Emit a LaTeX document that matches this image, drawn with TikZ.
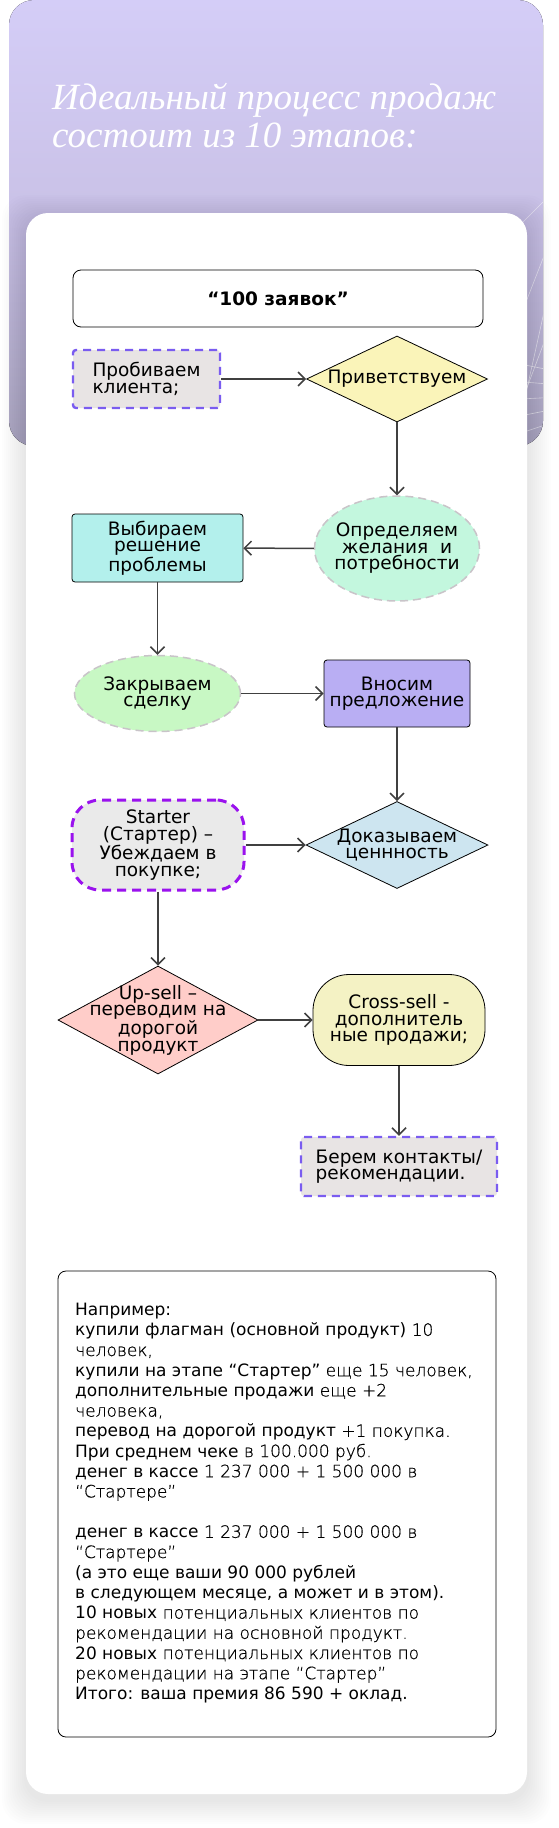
\documentclass[tikz,border=0pt]{standalone}
\usepackage{fontspec}
\setmainfont{DejaVu Sans}
\newfontfamily\lightfont[FakeBold=0.5]{DejaVu Sans ExtraLight}
\newfontfamily\titlefont{Liberation Serif}
\usetikzlibrary{arrows.meta, shapes.geometric}
\definecolor{mHeadTop}{HTML}{D4CDF7}
\definecolor{mHeadMid}{HTML}{C9C1E6}
\definecolor{mHeadBot}{HTML}{AEA9C3}
\definecolor{mArrow}{HTML}{404040}
\definecolor{mDashBlue}{HTML}{7A5CF0}
\definecolor{mDashViolet}{HTML}{9A12EE}
\definecolor{mDashGray}{HTML}{C9C4C9}
\definecolor{mGrayFill}{HTML}{E8E4E4}
\definecolor{mStarter}{HTML}{EAEAEA}
\definecolor{mYellow}{HTML}{FAF4B9}
\definecolor{mMint}{HTML}{C3F7DE}
\definecolor{mCyan}{HTML}{B3F0EC}
\definecolor{mGreen}{HTML}{C8F8C4}
\definecolor{mLavender}{HTML}{B9AEF3}
\definecolor{mSky}{HTML}{CDE5F0}
\definecolor{mPink}{HTML}{FFCDC9}
\definecolor{mCream}{HTML}{F4F2C4}
\newcommand{\lite}[1]{{\lightfont #1}}

\begin{document}
\begin{tikzpicture}[x=1pt, y=-1pt,
    box/.style={draw=black, line width=0.8pt, rounded corners=3pt, align=center, inner sep=0pt,
      font=\fontsize{18.5}{16.5}\selectfont},
    dashbox/.style={box, draw=mDashBlue, line width=2.4pt, dash pattern=on 8pt off 6pt, fill=mGrayFill, align=left},
    rhomb/.style={diamond, draw=black, line width=0.8pt, inner sep=0pt},
    oval/.style={ellipse, draw=mDashGray, line width=1.5pt, dash pattern=on 8pt off 5pt, inner sep=0pt},
    txt/.style={align=center, inner sep=0pt, font=\fontsize{18.5}{16.5}\selectfont},
    arr/.style={draw=mArrow, line width=1.5pt, -{Straight Barb[length=7pt, width=14pt]}},
    title/.style={anchor=base west, inner sep=0pt, text height=24pt, text depth=6pt, text=white,
      font=\titlefont\itshape\fontsize{37}{37}\selectfont}]
  \useasboundingbox (0,0) rectangle (558,1828);
  \fill[white] (0,0) rectangle (558,1828);

  \fill[top color=mHeadTop, bottom color=mHeadBot, middle color=mHeadMid, rounded corners=25pt] (9,0) rectangle (543,446);
  \begin{scope}
    \clip[rounded corners=25pt] (9,0) rectangle (543,446);
    \foreach \a/\b/\c/\d in {560/185/505/240, 560/215/515/330, 560/240/520/420, 560/300/505/446,
        500/360/560/372, 500/380/560/385, 500/400/560/397, 500/420/560/408, 500/440/560/420}
      \draw[white, opacity=0.55, line width=0.6pt] (\a,\b) -- (\c,\d);
  \end{scope}
  \node[title] (title1) at (52,110) {Идеальный процесс продаж};
  \node[title] (title2) at (52,147) {состоит из 10 этапов:};

  \foreach \s in {1,...,12}
    \fill[black, opacity=0.006, rounded corners=24pt] (26-2*\s,213-2*\s+6) rectangle (527+2*\s,1794+2*\s+6);
  \fill[white, rounded corners=22pt] (26,213) rectangle (527,1794);

  \node[box, fill=white, rounded corners=8pt, minimum width=410pt, minimum height=57pt] (zayavki) at (278,298.5) {\bfseries “100 заявок”};
  \node[dashbox, minimum width=147pt, minimum height=58pt] (probiv) at (146.5,379) {Пробиваем\\клиента;};
  \node[rhomb, fill=mYellow, minimum width=181pt, minimum height=86pt,
    label={[txt]center:Приветствуем}] (privet) at (397,379) {};
  \node[oval, fill=mMint, minimum width=165pt, minimum height=105pt,
    label={[txt]center:Определяем\\желания\ \ и\\потребности}] (opred) at (397,548.5) {};
  \node[box, fill=mCyan, minimum width=171pt, minimum height=68pt] (vybir) at (157.5,548) {Выбираем\\решение\\проблемы};
  \node[oval, fill=mGreen, minimum width=166pt, minimum height=76pt,
    label={[txt]center:Закрываем\\сделку}] (zakryv) at (157.5,693.5) {};
  \node[box, fill=mLavender, minimum width=146pt, minimum height=67pt] (vnosim) at (397,693.5) {Вносим\\предложение};
  \node[rhomb, fill=mSky, minimum width=182pt, minimum height=87pt,
    label={[txt]center:Доказываем\\ценнность}] (dokaz) at (397,845) {};
  \node[box, fill=mStarter, draw=mDashViolet, line width=3pt, dash pattern=on 9pt off 6pt, rounded corners=28pt,
    minimum width=172pt, minimum height=90pt] (starter) at (158,845) {Starter\\(Стартер) –\\Убеждаем в\\покупке;};
  \node[rhomb, fill=mPink, minimum width=200pt, minimum height=108pt,
    label={[txt]center:Up-sell –\\переводим на\\дорогой\\продукт}] (upsell) at (158,1020) {};
  \node[box, fill=mCream, rounded corners=36pt, minimum width=172pt, minimum height=91pt] (cross) at (399,1020) {Cross-sell -\\дополнитель\\ные продажи;};
  \node[dashbox, minimum width=196pt, minimum height=59pt] (berem) at (399,1166.5) {Берем контакты/\\рекомендации.};

  \draw[arr] (probiv) -- (privet);
  \draw[arr] (privet) -- (opred);
  \draw[arr] (opred) -- (vybir);
  \draw[arr] (vybir) -- (zakryv);
  \draw[arr] (zakryv) -- (vnosim);
  \draw[arr] (vnosim) -- (dokaz);
  \draw[arr] (starter) -- (dokaz);
  \draw[arr] (starter) -- (upsell);
  \draw[arr] (upsell) -- (cross);
  \draw[arr] (cross) -- (berem);

  \node[box, rounded corners=8pt, minimum width=438pt, minimum height=466pt] (exbox) at (277,1504) {};
  \node[anchor=north west, align=left, inner sep=0pt, font=\fontsize{17}{20.2}\selectfont] (extext) at (75,1303) {%
    Например:\\
    купили флагман (основной продукт) \lite{10}\\
    \lite{человек,}\\
    купили на этапе “Стартер” \lite{еще 15 человек,}\\
    дополнительные продажи \lite{еще +2}\\
    \lite{человека,}\\
    перевод на дорогой продукт \lite{+1 покупка.}\\
    При среднем чеке \lite{в 100.000 руб.}\\
    денег в кассе \lite{1 237 000 + 1 500 000 в}\\
    \lite{“Стартере”}\\[20.2pt]
    денег в кассе \lite{1 237 000 + 1 500 000 в}\\
    \lite{“Стартере”}\\
    (а это еще ваши 90 000 рублей\\
    в следующем месяце, а может и в этом).\\
    10 новых \lite{потенциальных клиентов по}\\
    \lite{рекомендации на основной продукт.}\\
    20 новых \lite{потенциальных клиентов по}\\
    \lite{рекомендации на этапе “Стартер”}\\
    Итого: ваша премия 86 590 + оклад.};
\end{tikzpicture}
\end{document}
